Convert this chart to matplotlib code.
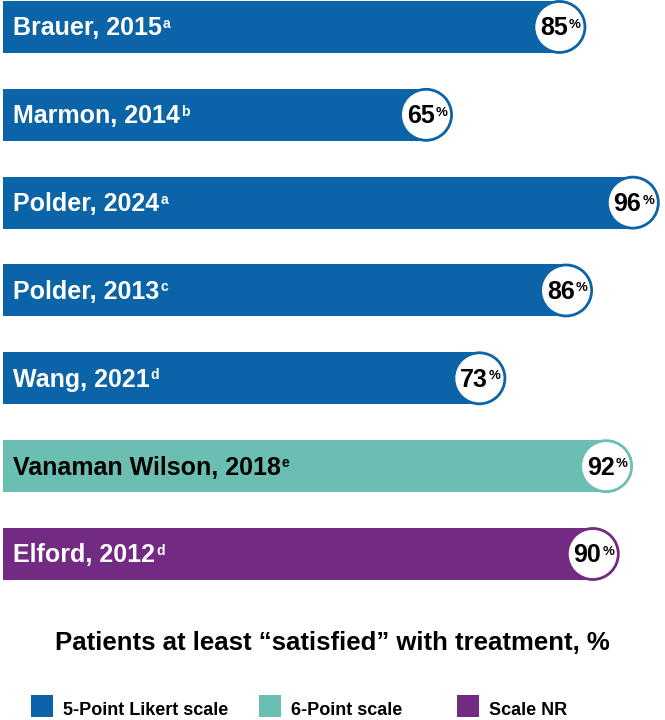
import matplotlib
matplotlib.use("Agg")
import matplotlib.pyplot as plt
from matplotlib.patches import Ellipse, Rectangle

plt.rcParams['font.family'] = ['Liberation Sans', 'DejaVu Sans']

# data
studies = ["Brauer, 2015", "Marmon, 2014", "Polder, 2024", "Polder, 2013",
           "Wang, 2021", "Vanaman Wilson, 2018", "Elford, 2012"]
notes = ["a", "b", "a", "c", "d", "e", "d"]
satisfied = [85, 65, 96, 86, 73, 92, 90]
scales = ["5-Point Likert scale"] * 5 + ["6-Point scale", "Scale NR"]

scale_names = ["5-Point Likert scale", "6-Point scale", "Scale NR"]
scale_colors = {"5-Point Likert scale": "#0B63A8",
                "6-Point scale": "#6BBFB2",
                "Scale NR": "#722A83"}
label_colors = {"5-Point Likert scale": "white",
                "6-Point scale": "black",
                "Scale NR": "white"}

DPI = 100
fig = plt.figure(figsize=(6.65, 7.2), dpi=DPI)
ax = fig.add_axes([0, 0, 1, 1])
ax.set_xlim(-2.7, 97.0)
ax.set_ylim(7.89, -0.307)
ax.axis("off")

px_x = 665 / (97.0 + 2.7)      # pixels per %
px_y = 720 / (7.89 + 0.307)    # pixels per row
r_px = 25.5
rx = r_px / px_x
ry = r_px / px_y
bar_h = 52 / px_y
start = -2.25

renderer = fig.canvas.get_renderer()


def text_with_sup(x, y, main, sup, size, sup_size, color, dx, dy, rise, gap=1, center=False):
    t = ax.annotate(main, (x, y), xytext=(dx, dy), textcoords="offset pixels",
                    ha="left", va="baseline", fontsize=size, fontweight="bold",
                    color=color, zorder=5)
    s = ax.annotate(sup, (x, y), xytext=(dx, dy + rise), textcoords="offset pixels",
                    ha="left", va="baseline", fontsize=sup_size, fontweight="bold",
                    color=color, zorder=5)
    w1 = t.get_window_extent(renderer).width
    w2 = s.get_window_extent(renderer).width
    if center:
        dx = dx - (w1 + gap + w2) / 2
        t.xyann = (dx, dy)
    s.xyann = (dx + w1 + gap, dy + rise)


for i, (name, note, val, sc) in enumerate(zip(studies, notes, satisfied, scales)):
    col = scale_colors[sc]
    cx = val - rx
    ax.barh(i, cx - start, left=start, height=bar_h, color=col, zorder=2)
    ax.add_patch(Ellipse((cx, i), 2 * rx, 2 * ry, facecolor="white",
                         edgecolor=col, linewidth=2, zorder=3))
    text_with_sup(-0.75, i, name, note, 18, 10, label_colors[sc], 0, -8.5, 7.5)
    text_with_sup(cx, i, str(val), "%", 18, 9.5, "black", 1, -8.5, 7.5, center=True)

fig.text(0.5, 1 - 650 / 720, "Patients at least \u201csatisfied\u201d with treatment, %",
         ha="center", va="baseline", fontsize=18.5, fontweight="bold")

# legend
leg_sq = [31, 259, 457]
for name, x0 in zip(scale_names, leg_sq):
    fig.patches.append(Rectangle((x0 / 665, 1 - 717 / 720), 22 / 665, 22 / 720,
                                 transform=fig.transFigure,
                                 facecolor=scale_colors[name], edgecolor="none"))
    fig.text((x0 + 32) / 665, 1 - 715 / 720, name, ha="left", va="baseline",
             fontsize=13, fontweight="bold")

fig.savefig("out.png", dpi=DPI)
